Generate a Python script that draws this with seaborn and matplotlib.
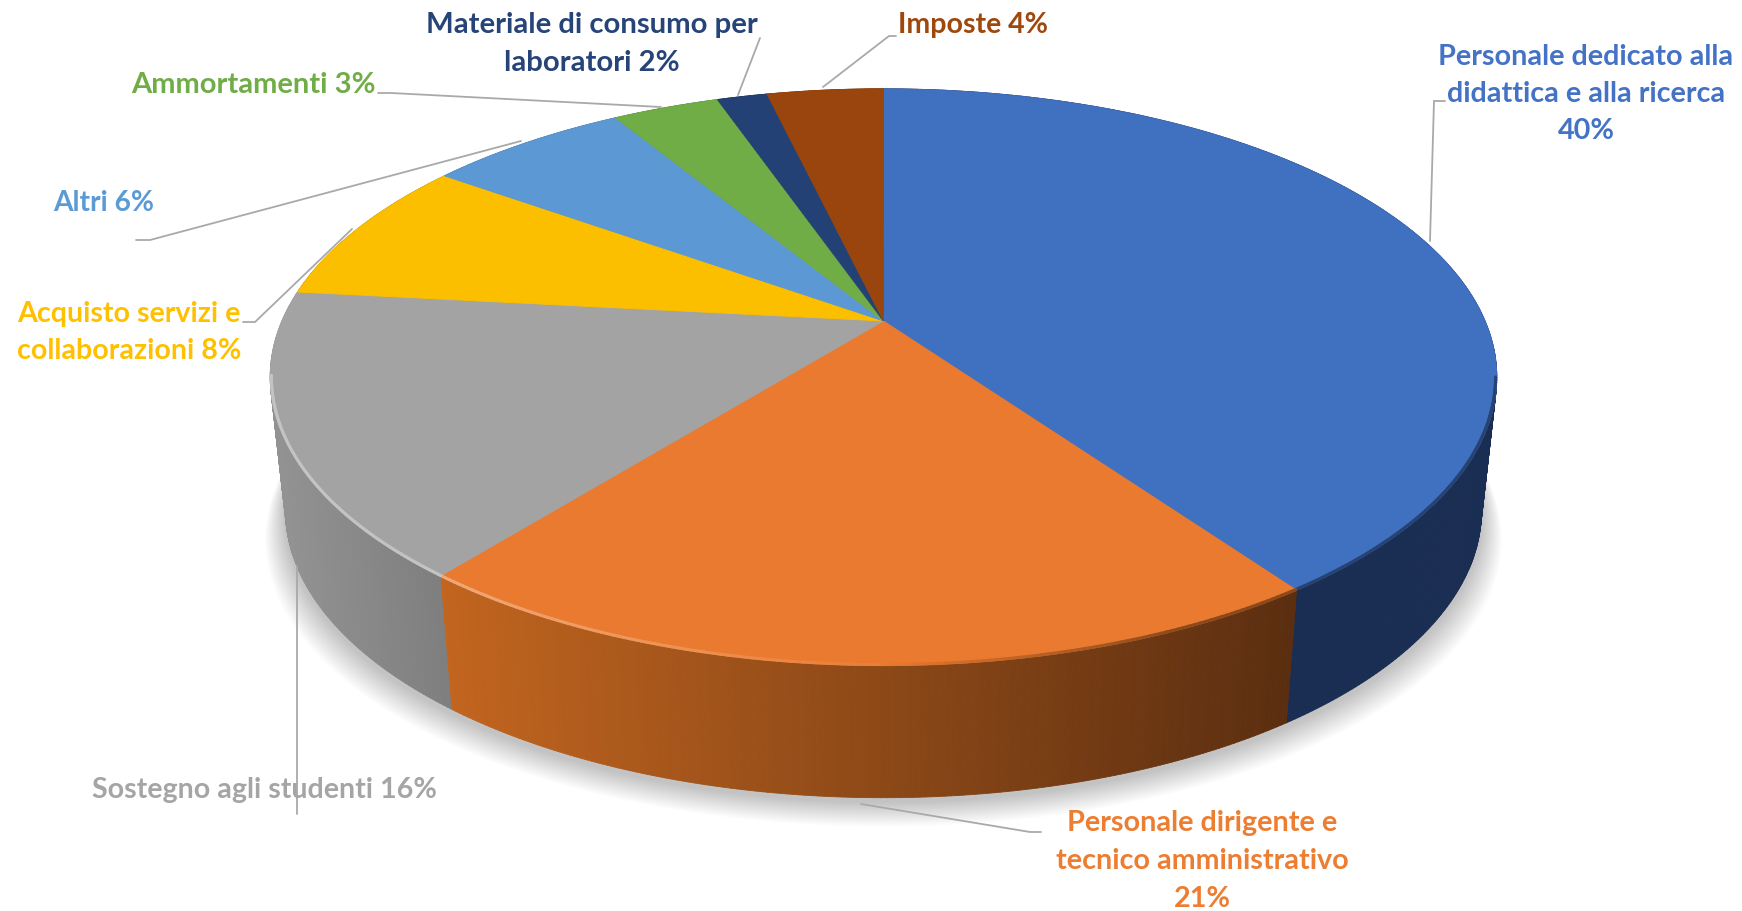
import numpy as np
import matplotlib
matplotlib.use("Agg")
import matplotlib.pyplot as plt
from matplotlib.transforms import Transform
from matplotlib.collections import PolyCollection, LineCollection
from matplotlib.colors import to_rgb
import seaborn as sns

# ---- data ----
categories = ["Personale dedicato alla didattica e alla ricerca",
              "Personale dirigente e tecnico amministrativo",
              "Sostegno agli studenti", "Acquisto servizi e collaborazioni",
              "Altri", "Ammortamenti", "Materiale di consumo per laboratori",
              "Imposte"]
shares = [40.2, 20.55, 15.95, 8.2, 6.4, 3.4, 1.6, 3.7]
colors = ["#4070c0", "#e97a2f", "#a3a3a3", "#fbbf00",
          "#5b98d4", "#70ad47", "#244175", "#99450d"]
label_colors = ["#4472c4", "#ed7d31", "#a5a5a5", "#ffc000",
                "#5b9bd5", "#70ad47", "#264478", "#9e480e"]
wall_left = ["#1a2d52", "#c2651f", "#929292", "#9a7300", "#375d80", "#43682b", "#162847", "#5f2b08"]
wall_right = ["#1a2d52", "#5b2e10", "#7f7f7f", "#9a7300", "#375d80", "#43682b", "#162847", "#5f2b08"]

# label lines: (text, centre x, centre y), with target width of the widest line
labels = [
    (["Personale dedicato alla", "didattica e alla ricerca", "40%"], 1586, [57, 94, 131], 294),
    (["Personale dirigente e", "tecnico amministrativo", "21%"], 1202, [823, 861, 899], 293),
    (["Sostegno agli studenti 16%"], 264, [790], 345),
    (["Acquisto servizi e", "collaborazioni 8%"], 129, [314, 351], 224),
    (["Altri 6%"], 104, [203], 101),
    (["Ammortamenti 3%"], 253, [85], 244),
    (["Materiale di consumo per", "laboratori 2%"], 592, [25, 63], 331),
    (["Imposte 4%"], 973, [25], 150),
]
leaders = [
    [(1445, 102), (1434, 102), (1430, 242)],
    [(861, 805), (1030, 833), (1041, 833)],
    [(297, 567), (297, 815)],
    [(352, 230), (255, 323), (243, 323)],
    [(521, 142), (150, 241), (136, 241)],
    [(661, 108), (391, 94), (378, 94)],
    [(738, 96), (760, 39)],
    [(823, 88), (889, 37), (896, 37)],
]

# ---- perspective of the disc, in image pixels ----
CX, CY, A, B, K = 883.5, 322.0, 601.6, 277.4, 0.1946
BOTTOM_XS, BOTTOM_YS, BOTTOM_CY = 0.975, 0.995, 456.0


class Perspective(Transform):
    input_dims = output_dims = 2

    def __init__(self, cy=CY, xs=1.0, ys=1.0, grow=0.0):
        super().__init__()
        self.cy, self.xs, self.ys, self.grow = cy, xs, ys, grow

    def transform_non_affine(self, pts):
        pts = np.asarray(pts, float)
        d = 1 + K * pts[:, 1]
        return np.column_stack([CX + (A * self.xs + self.grow) * pts[:, 0] / d,
                                self.cy - B * self.ys * pts[:, 1] / d])


sns.set_theme(style="white")
plt.rcParams["font.family"] = ["Lato", "DejaVu Sans"]
fig = plt.figure(figsize=(17.42, 9.12), dpi=100, facecolor="white")
ax = fig.add_axes([0, 0, 1, 1])

palette = sns.color_palette(colors)
wedges, _ = ax.pie(shares, colors=palette, startangle=90, counterclock=False,
                   wedgeprops=dict(linewidth=0.6), normalize=True)
ax.set_aspect("auto")
ax.set_xlim(0, 1742)
ax.set_ylim(912, 0)
ax.axis("off")

top = Perspective()
bottom = Perspective(BOTTOM_CY, BOTTOM_XS, BOTTOM_YS)


def unit(deg):
    r = np.radians(deg)
    return np.column_stack([np.cos(r), np.sin(r)])


# soft cast shadow: stacked translucent discs
ring = unit(np.linspace(0, 360, 361))
for t in np.linspace(1, 0, 30):
    sh = Perspective(BOTTOM_CY + 5 + 24 * t, BOTTOM_XS, BOTTOM_YS, 1 + 19 * t).transform_non_affine(ring)
    ax.fill(sh[:, 0], sh[:, 1], color="#303030", alpha=0.0068, lw=0, zorder=0.5)

# side wall, with shading
for w, cl, cr in zip(wedges, wall_left, wall_right):
    th = np.arange(w.theta1, w.theta2 + 0.5, 0.5)
    th[-1] = w.theta2
    u = top.transform_non_affine(unit(th))
    l = bottom.transform_non_affine(unit(th))
    polys = [np.array([u[i], u[i + 1], l[i + 1], l[i]]) for i in range(len(th) - 1)]
    xm = 0.5 * (u[:-1, 0] + u[1:, 0])
    span = np.array([438.0, 1296.0]) if cl == "#c2651f" else np.array([280.0, 438.0])
    tt = np.clip((xm - span[0]) / (span[1] - span[0]), 0, 1)[:, None]
    cols = (1 - tt) * np.array(to_rgb(cl)) + tt * np.array(to_rgb(cr))
    ax.add_collection(PolyCollection(polys, facecolors=cols, edgecolors=cols, linewidths=0.6, zorder=1))

# top face: the pie's own wedges seen through the perspective
for w in wedges:
    w.set_transform(top + ax.transData)
    w.set_edgecolor(w.get_facecolor())
    w.set_zorder(2)

# bevel along the front rim
for w, c in zip(wedges, palette):
    th = np.arange(w.theta1, w.theta2 + 0.5, 0.5)
    th[-1] = w.theta2
    p = top.transform_non_affine(unit(th) * 0.998)
    segs = np.stack([p[:-1], p[1:]], axis=1)
    xm = segs[:, :, 0].mean(axis=1)
    ym = segs[:, :, 1].mean(axis=1)
    base = np.array(c)
    rows = []
    for x, y in zip(xm, ym):
        if y < 377:
            rows.append((*base, 0.0))
        elif x < 883:
            amt = 0.03 + 0.32 * np.clip((883 - x) / 445, 0, 1)
            rows.append((*(base + (1 - base) * amt), 1.0))
        else:
            amt = 0.4 * np.clip((x - 883) / 300, 0, 1)
            rows.append((*(base * (1 - amt)), 1.0))
    ax.add_collection(LineCollection(segs, colors=rows, linewidths=2.2, zorder=3, capstyle="round"))

# leader lines
for pts in leaders:
    xs, ys = zip(*pts)
    ax.plot(xs, ys, color="#a9a9a9", lw=1.3, zorder=4, solid_joinstyle="miter")

# labels, each sized to the width it occupies in the picture
fig.canvas.draw()
renderer = fig.canvas.get_renderer()
for (lines, cx, ys, width), col in zip(labels, label_colors):
    texts = [ax.text(cx, y, s, color=col, ha="center", va="center", weight="bold",
                     fontsize=20, zorder=5) for s, y in zip(lines, ys)]
    widest = max(t.get_window_extent(renderer).width for t in texts)
    for t in texts:
        t.set_fontsize(20 * width / widest)

fig.savefig("out.png", dpi=100, facecolor="white")
